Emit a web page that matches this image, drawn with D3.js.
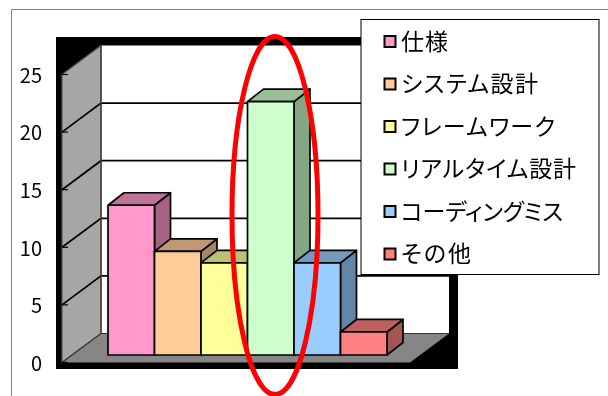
<!DOCTYPE html>
<html lang="ja"><head><meta charset="utf-8">
<script src="https://cdn.jsdelivr.net/npm/d3@7/dist/d3.min.js"></script>
<style>html,body{margin:0;padding:0;background:#fff;overflow:hidden}svg{display:block}text{font-family:"Noto Sans CJK JP","Noto Sans",sans-serif;fill:#000;font-feature-settings:"palt" 1}</style>
</head><body><svg id="c" width="608" height="396"></svg>
<script>
const categories = ["仕様","システム設計","フレームワーク","リアルタイム設計","コーディングミス","その他"];
const values = [13,9,8,22,8,2];
const colors = ["#FF99CC","#FFCC99","#FFFF99","#CCFFCC","#99CCFF","#FF8080"];
const yTicks = [0,5,10,15,20,25];

const svg = d3.select("#c");
const defs = svg.append("defs");
defs.append("filter").attr("id","soft").attr("x","-5%").attr("y","-5%").attr("width","110%").attr("height","110%")
  .append("feGaussianBlur").attr("stdDeviation",0.6);
defs.append("filter").attr("id","softText").attr("x","-5%").attr("y","-5%").attr("width","110%").attr("height","110%")
  .append("feGaussianBlur").attr("stdDeviation",0.3);

// chart-area frame
svg.append("path").attr("d","M11.5 396V9.5H608").attr("fill","none").attr("stroke","#808080").attr("stroke-width",1);

const W = {dx:39, dy:-29};          // wall depth
const B = {dx:16, dy:-12.5};        // bar depth
const y = d3.scaleLinear().domain([0,25]).range([362.5,74.5]);
const floorX = d3.scaleLinear().domain([0,1]).range([62,410]);
const x = d3.scaleBand().domain(categories).range([108,387]);
const barBase = 355;
const pxPerUnit = y(0)-y(1);
const poly = pts => "M"+pts.map(p=>p.join(" ")).join("L")+"Z";

const g = svg.append("g").attr("filter","url(#soft)");
// black backing
g.append("rect").attr("x",56).attr("y",37).attr("width",402).attr("height",332).attr("fill","#000");
const xL=floorX(0), xR=floorX(1), yT=y(25), yB=y(0);
// back wall
g.append("rect").attr("x",xL+W.dx).attr("y",yT+W.dy).attr("width",xR-xL).attr("height",yB-yT).attr("fill","#fff");
// side wall
g.append("path").attr("d",poly([[xL,yB],[xL,yT],[xL+W.dx,yT+W.dy],[xL+W.dx,yB+W.dy]])).attr("fill","#A6A6A6").attr("stroke","#555").attr("stroke-width",1.2);
// floor
g.append("path").attr("d",poly([[xL,yB],[xL+W.dx,yB+W.dy],[xR+W.dx,yB+W.dy],[xR,yB]])).attr("fill","#868686");
// gridlines
const grid = g.append("g");
yTicks.filter(t=>t>0&&t<25).forEach(t=>{
  grid.append("path").attr("d",`M${xL} ${y(t)}L${xL+W.dx} ${y(t)+W.dy}H${xR+W.dx}`).attr("fill","none").attr("stroke","#000").attr("stroke-width",1.7);
});
g.append("path").attr("d",`M${xL} ${yB}L${xL+W.dx} ${yB+W.dy}H${xR+W.dx}`).attr("fill","none").attr("stroke","#333").attr("stroke-width",1.2);
g.append("path").attr("d",`M${xL+W.dx} ${yB+W.dy}V${yT+W.dy}`).attr("stroke","#444").attr("stroke-width",1.5);
// ticks
yTicks.forEach(t=>{g.append("line").attr("x1",xL).attr("x2",xL+6).attr("y1",y(t)).attr("y2",y(t)).attr("stroke","#000").attr("stroke-width",1.2);});
// bars
const bars = g.selectAll("g.bar").data(categories).join("g").attr("class","bar");
bars.each(function(c,i){
  const s=d3.select(this), x0=x(c), x1=x0+x.bandwidth(), top=barBase-values[i]*pxPerUnit, col=d3.color(colors[i]);
  const stroke={stroke:"#000","stroke-width":1.7,"stroke-linejoin":"round"};
  const add=(d,f)=>{const p=s.append("path").attr("d",d).attr("fill",f);Object.entries(stroke).forEach(([k,v])=>p.attr(k,v));};
  add(poly([[x1,top],[x1+B.dx,top+B.dy],[x1+B.dx,barBase+B.dy],[x1,barBase]]), d3.rgb(col.r*.65,col.g*.65,col.b*.65));
  add(poly([[x0,top],[x0+B.dx,top+B.dy],[x1+B.dx,top+B.dy],[x1,top]]), d3.rgb(col.r*.75,col.g*.75,col.b*.75));
  add(poly([[x0,top],[x1,top],[x1,barBase],[x0,barBase]]), col);
});
// axis labels
svg.append("g").attr("filter","url(#softText)").selectAll("text").data(yTicks).join("text")
  .attr("x",42).attr("y",t=>y(t)+1).attr("dy","0.36em").attr("text-anchor","end").attr("font-size",20).text(t=>t);
// highlight ellipse
svg.append("ellipse").attr("cx",275).attr("cy",215.5).attr("rx",43).attr("ry",179).attr("fill","none").attr("stroke","#FF0000").attr("stroke-width",5);
// legend
const legendWidth = new Map([["仕様",47],["システム設計",137],["フレームワーク",154],["リアルタイム設計",175],["コーディングミス",162],["その他",70]]);
const lg=svg.append("g");
lg.append("rect").attr("x",361).attr("y",19.5).attr("width",238).attr("height",255).attr("fill","#fff").attr("stroke","#000").attr("stroke-width",1);
const ly=d3.scalePoint().domain(categories).range([41.5,254]);
const row=lg.selectAll("g").data(categories).join("g").attr("transform",c=>`translate(0,${ly(c)})`);
row.append("rect").attr("x",384.5).attr("y",-5.5).attr("width",11).attr("height",11).attr("fill",(c,i)=>colors[i]).attr("stroke","#000").attr("stroke-width",2);
row.append("text").attr("x",401).attr("dy","0.36em").attr("font-size",23).attr("textLength",c=>legendWidth.get(c)).attr("lengthAdjust","spacing").attr("filter","url(#softText)").text(c=>c);
</script></body></html>
